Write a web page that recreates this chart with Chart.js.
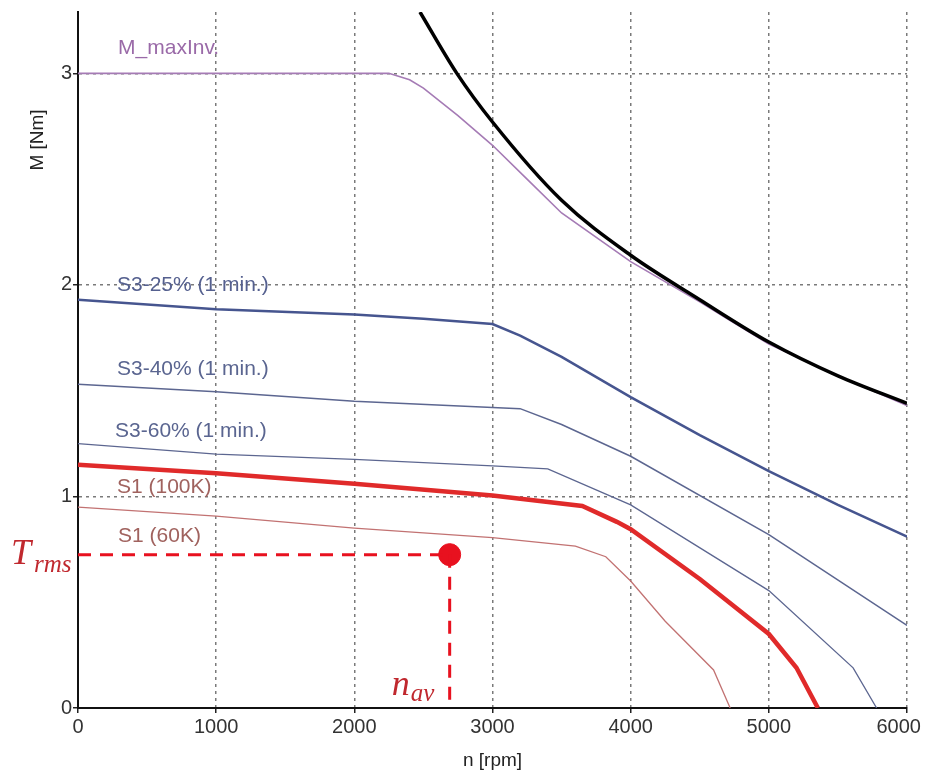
<!DOCTYPE html>
<html>
<head>
<meta charset="utf-8">
<script src="https://cdn.jsdelivr.net/npm/chart.js@4.4.1/dist/chart.umd.min.js"></script>
<style>
  html, body { margin: 0; padding: 0; background: #fff; }
  #wrap { width: 925px; height: 778px; }
</style>
</head>
<body>
<div id="wrap"><canvas id="torqueChart" width="925" height="778"></canvas></div>
<script>
// ===== DATA =====
const xTicks = [0, 1000, 2000, 3000, 4000, 5000, 6000];
const yTicks = [0, 1, 2, 3];

// voltage limit (black)
const limitRpm = [2475, 2742, 3000, 3500, 4000, 4500, 5000, 5500, 6000];
const limitNm = [3.29, 3.0, 2.77, 2.40, 2.14, 1.93, 1.73, 1.57, 1.44];

// M_maxInv.
const maxInvRpm = [0, 2250, 2400, 2500, 2750, 3000, 3250, 3500, 4000, 4500, 4700, 5000, 5500, 6000];
const maxInvNm = [3.0, 3.0, 2.97, 2.93, 2.80, 2.66, 2.50, 2.34, 2.11, 1.92, 1.84, 1.72, 1.57, 1.43];

// S3-25% (1 min.)
const s325Rpm = [0, 1000, 2000, 2500, 3000, 3200, 3500, 4000, 4500, 5000, 5500, 6000];
const s325Nm = [1.93, 1.885, 1.86, 1.84, 1.815, 1.76, 1.66, 1.47, 1.29, 1.12, 0.96, 0.81];

// S3-40% (1 min.)
const s340Rpm = [0, 1000, 2000, 3000, 3200, 3500, 4000, 5000, 6000];
const s340Nm = [1.53, 1.495, 1.45, 1.42, 1.415, 1.34, 1.19, 0.82, 0.39];

// S3-60% (1 min.)
const s360Rpm = [0, 1000, 2000, 3000, 3400, 4000, 5000, 5610, 5780];
const s360Nm = [1.25, 1.20, 1.175, 1.145, 1.13, 0.96, 0.555, 0.19, 0];

// S1 (100K)
const s1hRpm = [0, 1000, 2000, 3000, 3650, 3900, 4000, 4500, 5000, 5200, 5355];
const s1hNm = [1.15, 1.11, 1.06, 1.005, 0.955, 0.88, 0.845, 0.61, 0.35, 0.19, 0];

// S1 (60K)
const s1lRpm = [0, 1000, 2000, 3000, 3600, 3820, 4000, 4250, 4600, 4720];
const s1lNm = [0.95, 0.907, 0.85, 0.805, 0.765, 0.715, 0.60, 0.41, 0.18, 0];

// operating point
const navRpm = 2690;
const trmsNm = 0.725;

const pts = (xs, ys) => xs.map((v, i) => ({ x: v, y: ys[i] }));

// ===== LABELS =====
const curveLabels = [
  { text: "M_maxInv.", rpm: 290, nm: 3.12, color: "#9a6aa8" },
  { text: "S3-25% (1 min.)", rpm: 282, nm: 2.0, color: "#55608f" },
  { text: "S3-40% (1 min.)", rpm: 282, nm: 1.60, color: "#5a6590" },
  { text: "S3-60% (1 min.)", rpm: 268, nm: 1.31, color: "#5a6590" },
  { text: "S1 (100K)", rpm: 282, nm: 1.045, color: "#a0625e" },
  { text: "S1 (60K)", rpm: 290, nm: 0.81, color: "#a0625e" }
];

const labelPlugin = {
  id: "curveLabels",
  afterDraw(chart) {
    const { ctx, chartArea, scales: { x, y } } = chart;
    ctx.save();
    ctx.font = "21px 'Liberation Sans', Arial, sans-serif";
    ctx.textBaseline = "middle";
    ctx.textAlign = "left";
    curveLabels.forEach(l => {
      ctx.fillStyle = l.color;
      ctx.fillText(l.text, x.getPixelForValue(l.rpm), y.getPixelForValue(l.nm));
    });

    // axis titles
    ctx.fillStyle = "#222";
    ctx.font = "19px 'Liberation Sans', Arial, sans-serif";
    ctx.textAlign = "center";
    ctx.fillText("n [rpm]", (chartArea.left + chartArea.right) / 2, 761);
    ctx.save();
    ctx.translate(38, 140);
    ctx.rotate(-Math.PI / 2);
    ctx.fillText("M [Nm]", 0, 0);
    ctx.restore();

    // T_rms and n_av
    ctx.fillStyle = "#c0282e";
    ctx.textAlign = "left";
    ctx.textBaseline = "alphabetic";
    const ty = y.getPixelForValue(trmsNm);
    ctx.font = "italic 36px 'Liberation Serif', serif";
    ctx.fillText("T", 11, ty + 9);
    ctx.font = "italic 25px 'Liberation Serif', serif";
    ctx.fillText("rms", 34, ty + 17);
    const nx = x.getPixelForValue(navRpm);
    ctx.font = "italic 36px 'Liberation Serif', serif";
    ctx.fillText("n", nx - 58, 695);
    ctx.font = "italic 25px 'Liberation Serif', serif";
    ctx.fillText("av", nx - 39, 701);
    ctx.restore();
  }
};

// fixed plot box: left 78, right 907, top 8, bottom 708
function fitX(s) {
  s.height = 70;
  s.paddingLeft = 0;
  s.paddingRight = 0;
}
function fitY(s) {
  s.width = 78;
  s.paddingTop = 0;
  s.paddingBottom = 0;
}

// last x label is pulled left so it stays on the canvas
const xLabel = v => (v === 6000 ? "6000\u00a0\u00a0\u00a0" : String(v));

// ===== CHART =====
const torqueChart = new Chart(
  document.getElementById("torqueChart"),
  {
    type: "line",
    data: {
      datasets: [
        {
          data: [{ x: 0, y: trmsNm }, { x: navRpm, y: trmsNm }],
          borderColor: "#e8111f", borderWidth: 3, borderDash: [13, 9],
          pointRadius: 0, order: 0
        },
        {
          data: [{ x: navRpm, y: trmsNm }, { x: navRpm, y: 0 }],
          borderColor: "#e8111f", borderWidth: 3, borderDash: [13, 9],
          pointRadius: 0, order: 0
        },
        {
          data: [{ x: navRpm, y: trmsNm }],
          borderColor: "#e8111f", backgroundColor: "#e8111f",
          pointRadius: 11, showLine: false, order: 0
        },
        {
          data: pts(limitRpm, limitNm),
          borderColor: "#000", borderWidth: 3.5,
          cubicInterpolationMode: "monotone", pointRadius: 0, order: 1
        },
        {
          data: pts(maxInvRpm, maxInvNm),
          borderColor: "#a57bb5", borderWidth: 1.6,
          pointRadius: 0, order: 2
        },
        {
          data: pts(s325Rpm, s325Nm),
          borderColor: "#46558f", borderWidth: 2.6,
          pointRadius: 0, order: 3
        },
        {
          data: pts(s340Rpm, s340Nm),
          borderColor: "#5c6690", borderWidth: 1.5,
          pointRadius: 0, order: 3
        },
        {
          data: pts(s360Rpm, s360Nm),
          borderColor: "#5c6690", borderWidth: 1.3,
          pointRadius: 0, order: 3
        },
        {
          data: pts(s1hRpm, s1hNm),
          borderColor: "#e02a2a", borderWidth: 4.5,
          pointRadius: 0, order: 2
        },
        {
          data: pts(s1lRpm, s1lNm),
          borderColor: "#c27272", borderWidth: 1.3,
          pointRadius: 0, order: 3
        }
      ]
    },
    options: {
      responsive: false,
      animation: false,
      layout: { padding: { top: 8, right: 18, left: 0, bottom: 0 } },
      plugins: { legend: { display: false }, tooltip: { enabled: false } },
      scales: {
        x: {
          type: "linear",
          min: 0,
          max: 6000,
          afterFit: fitX,
          afterBuildTicks: s => { s.ticks = xTicks.map(v => ({ value: v })); },
          ticks: {
            color: "#333",
            padding: 2,
            maxRotation: 0,
            font: { family: "'Liberation Sans', Arial, sans-serif", size: 20 },
            callback: xLabel
          },
          grid: { color: "#7a7a7a", lineWidth: 1.5, tickLength: 5, tickColor: "#222", tickWidth: 1.5 },
          border: { color: "#111", width: 2, dash: [3, 4] }
        },
        y: {
          min: 0,
          max: 3.29,
          afterFit: fitY,
          afterBuildTicks: s => { s.ticks = yTicks.map(v => ({ value: v })); },
          ticks: {
            color: "#333",
            padding: 1,
            font: { family: "'Liberation Sans', Arial, sans-serif", size: 20 },
            callback: v => String(v)
          },
          grid: { color: "#7a7a7a", lineWidth: 1.5, tickLength: 5, tickColor: "#222", tickWidth: 1.5 },
          border: { color: "#111", width: 2, dash: [3, 4] }
        }
      }
    },
    plugins: [labelPlugin]
  }
);
</script>
</body>
</html>
